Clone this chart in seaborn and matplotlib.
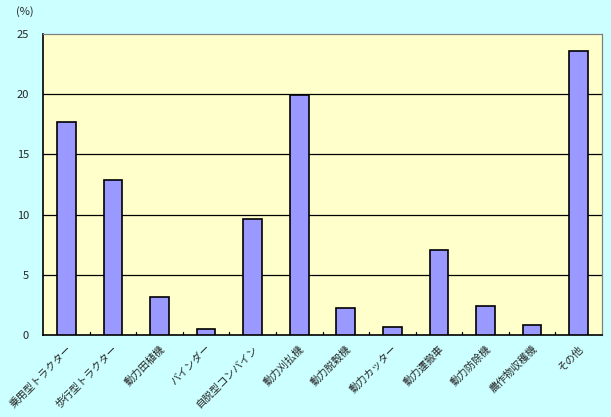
import matplotlib
matplotlib.use("Agg")
import matplotlib.pyplot as plt
import seaborn as sns
import pandas as pd

categories = ["乗用型トラクター", "歩行型トラクター", "動力田植機", "バインダー", "自脱型コンバイン",
              "動力刈払機", "動力脱穀機", "動力カッター", "動力運搬車", "動力防除機",
              "農作物収穫機", "その他"]
values = [17.7, 12.85, 3.15, 0.5, 9.6, 19.9, 2.25, 0.65, 7.1, 2.4, 0.85, 23.6]
yticks = [0, 5, 10, 15, 20, 25]

sns.set_theme(style="white")
plt.rcParams['font.family'] = ['Noto Sans CJK JP', 'DejaVu Sans']

df = pd.DataFrame({"cat": categories, "val": values})

fig = plt.figure(figsize=(6.11, 4.17), dpi=100, facecolor="#CCFFFF")
ax = fig.add_axes([43/611, (417-335)/417, (602-43)/611, (335-34)/417])
ax.set_facecolor("#FFFFCC")

sns.barplot(data=df, x="cat", y="val", color="#9999FF", saturation=1, width=0.4,
            edgecolor="black", linewidth=1.2, ax=ax, zorder=3)

ax.set_ylim(0, 25)
ax.set_xlim(-0.5, len(categories) - 0.5)
ax.set_yticks(yticks)
ax.set_yticklabels([str(t) for t in yticks], fontsize=8)
for t in yticks[1:-1]:
    ax.axhline(t, color="black", linewidth=0.9, zorder=1)

ax.set_xticks(range(len(categories)))
ax.set_xticklabels(categories, rotation=45, ha="right", rotation_mode="anchor", fontsize=7.5)
ax.tick_params(axis="x", length=0, pad=6)
ax.tick_params(axis="y", length=0, pad=10)
for b in [i + 0.5 for i in range(len(categories) - 1)]:
    ax.plot([b, b], [0, 0.25], color="black", linewidth=0.9, zorder=4)

ax.set_xlabel("")
ax.set_ylabel("")
for s in ["left", "bottom"]:
    ax.spines[s].set_color("black")
    ax.spines[s].set_linewidth(1.2)
for s in ["top", "right"]:
    ax.spines[s].set_color("#808080")
    ax.spines[s].set_linewidth(0.9)
    ax.spines[s].set_linestyle((0, (1, 1)))

fig.text(16/611, 1 - 12/417, "(%)", fontsize=8, va="center")

fig.savefig("out.png", dpi=100, facecolor=fig.get_facecolor())
